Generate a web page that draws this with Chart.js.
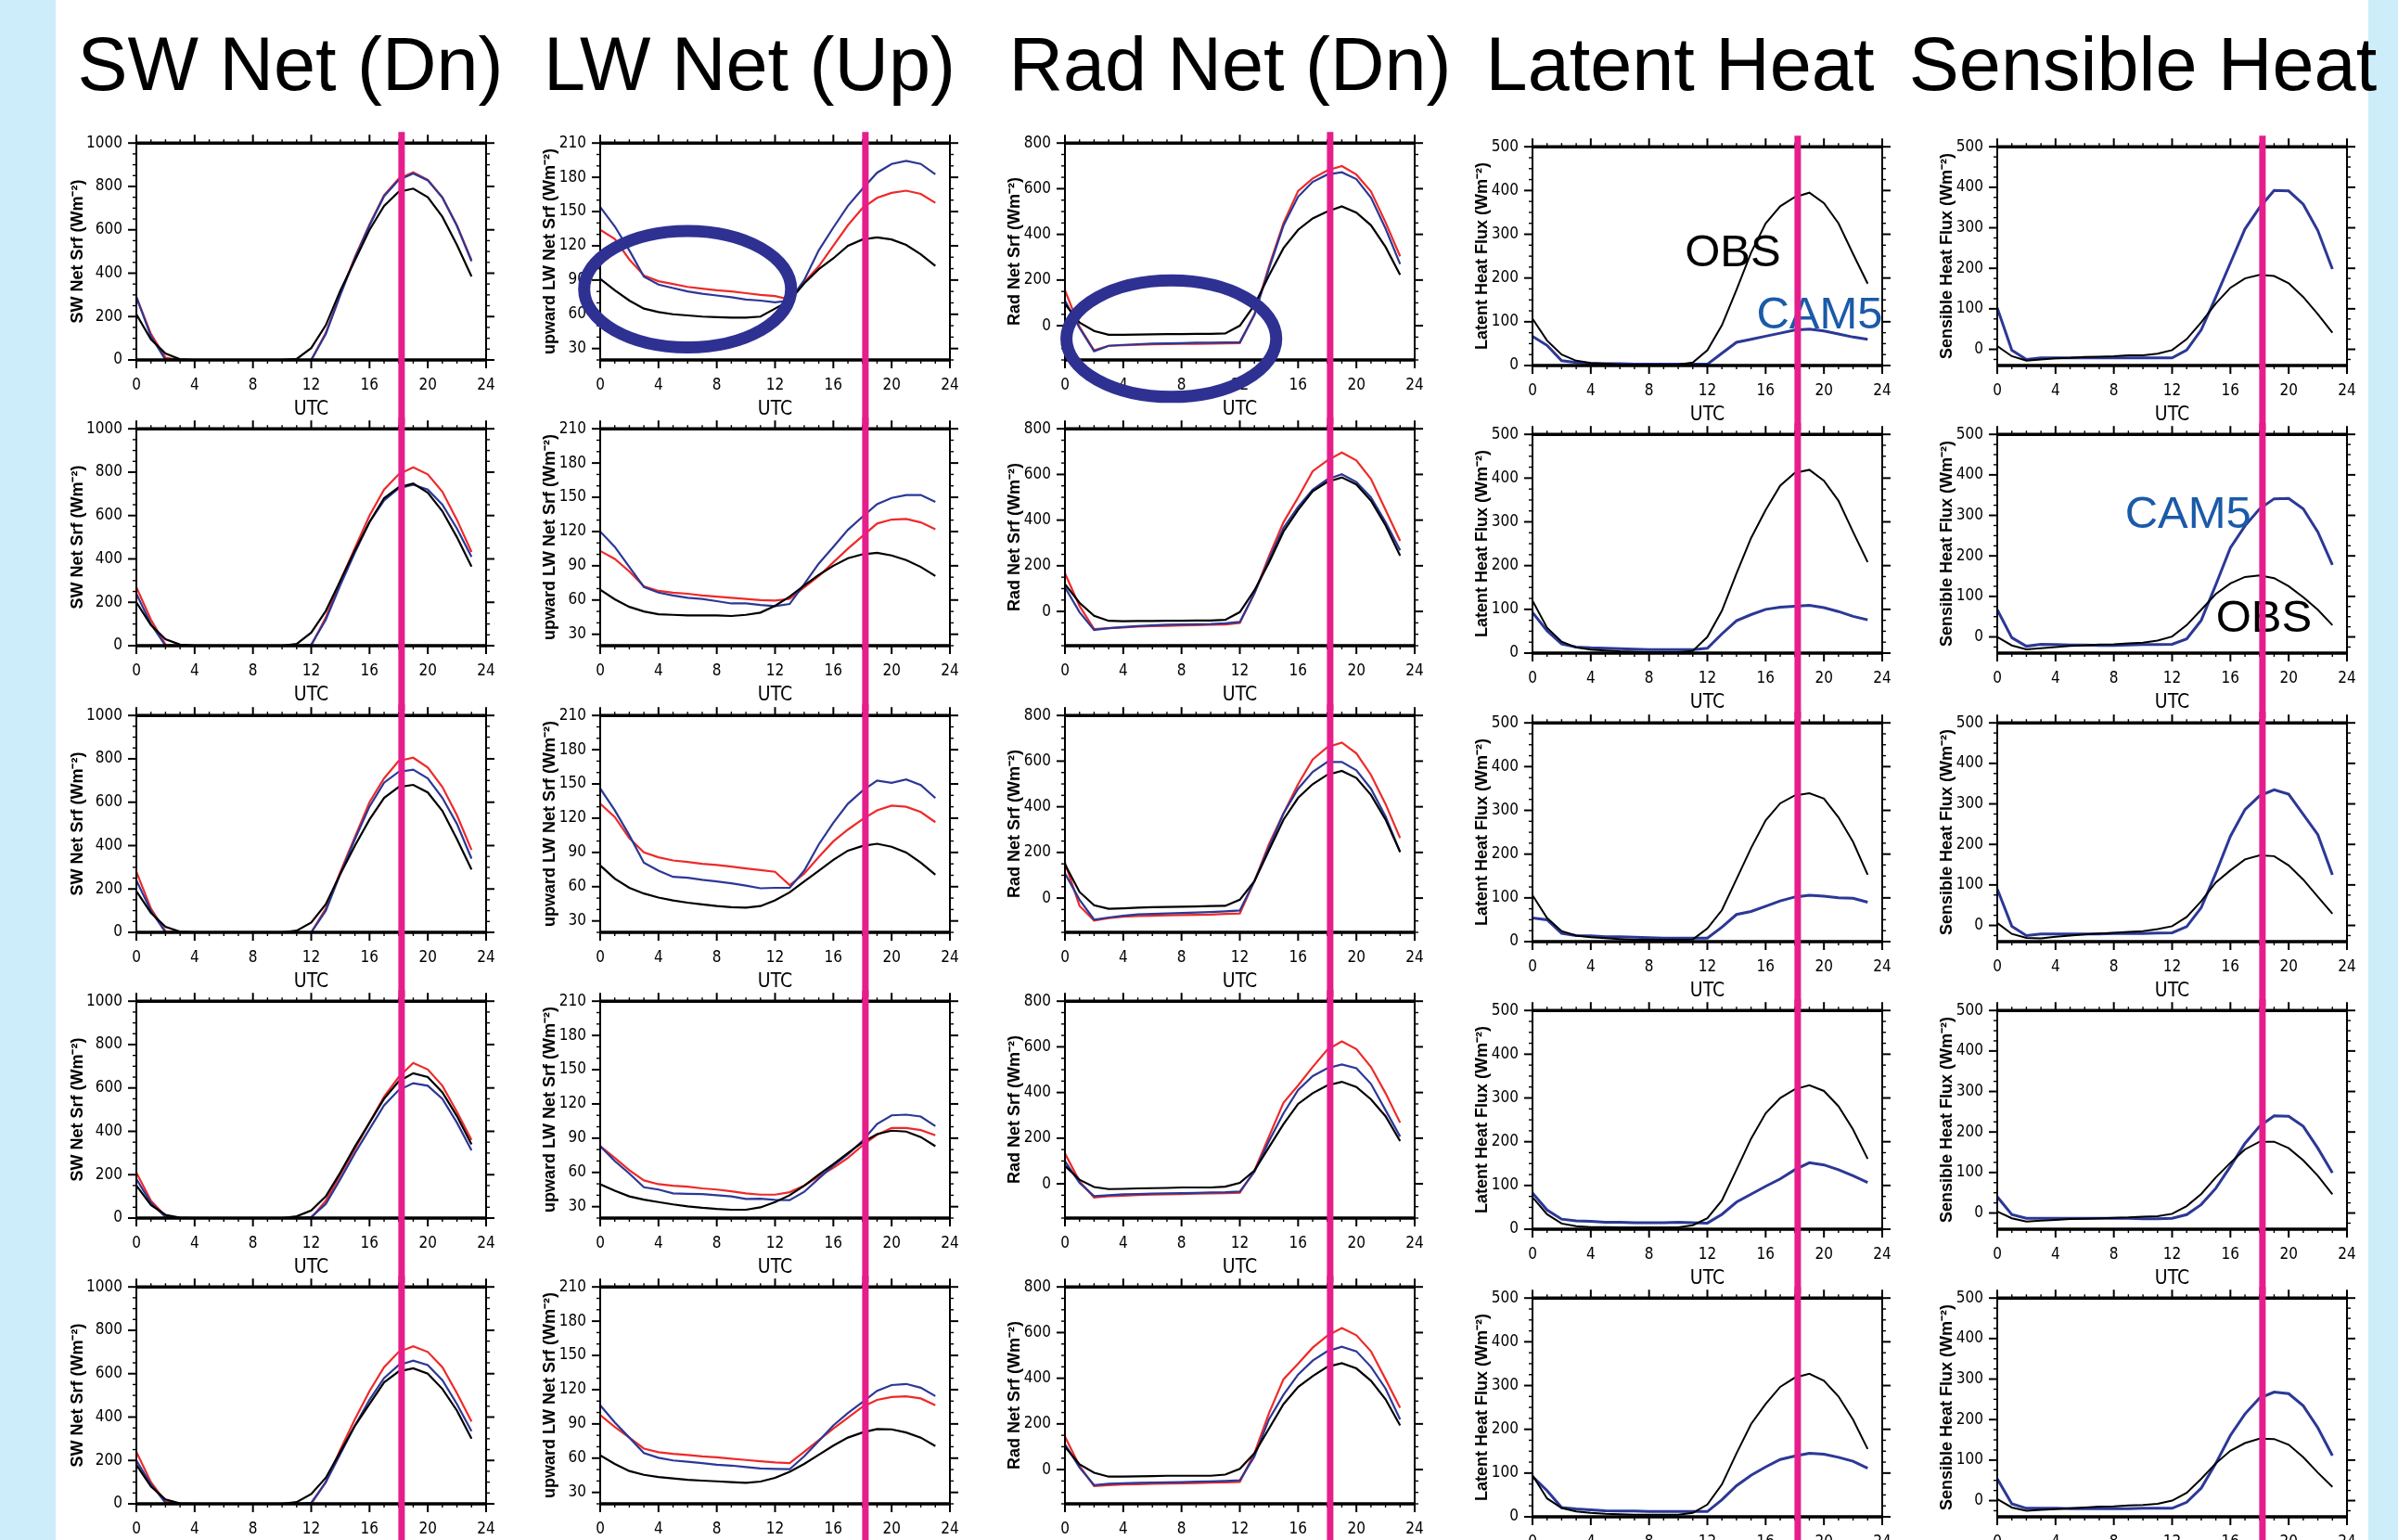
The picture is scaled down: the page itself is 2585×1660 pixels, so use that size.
<!DOCTYPE html>
<html>
<head>
<meta charset="utf-8">
<script src="https://cdn.jsdelivr.net/npm/chart.js@4/dist/chart.umd.min.js"></script>
<style>
  body { margin: 0; background: #fff; }
  #fig { position: relative; width: 2585px; height: 1660px; background: #fff; overflow: hidden; font-family: "Liberation Sans", Arial, sans-serif; }
  .strip { position: absolute; top: 0; height: 1660px; background: #cdedfa; }
  .head { position: absolute; top: 29px; font-size: 81px; line-height: 81px; white-space: nowrap; transform: translateX(-50%); color: #000; }
  canvas { position: absolute; }
</style>
</head>
<body>
<div id="fig">
  <div class="strip" style="left:0;width:60px"></div>
  <div class="strip" style="left:2553px;width:32px"></div>
</div>
<script>
  // hours of the composite diurnal cycle
  const utc = [0, 1, 2, 3, 4, 5, 6, 7, 8, 9, 10, 11, 12, 13, 14, 15, 16, 17, 18, 19, 20, 21, 22, 23];
  const utcTicks = [0, 4, 8, 12, 16, 20, 24];
  const markUTC = 18.2;

  const swTicks = [0, 200, 400, 600, 800, 1000];
  const lwTicks = [30, 60, 90, 120, 150, 180, 210];
  const radTicks = [0, 200, 400, 600, 800];
  const lhTicks = [0, 100, 200, 300, 400, 500];
  const shTicks = [0, 100, 200, 300, 400, 500];

  const headers = ['SW Net (Dn)', 'LW Net (Up)', 'Rad Net (Dn)', 'Latent Heat', 'Sensible Heat'];
  const yTitles = ['SW Net Srf (Wm⁻²)', 'upward LW Net Srf (Wm⁻²)', 'Rad Net Srf (Wm⁻²)', 'Latent Heat Flux (Wm⁻²)', 'Sensible Heat Flux (Wm⁻²)'];

  // SW net down, one row per panel
  const swObs = [
    [210, 95, 30, 3, 0, 0, 0, 0, 0, 0, 0, 5, 55, 160, 320, 460, 600, 710, 775, 790, 750, 660, 530, 385],
    [200, 95, 30, 5, 0, 0, 0, 0, 0, 0, 0, 8, 60, 160, 300, 440, 570, 680, 730, 748, 705, 620, 500, 365],
    [190, 90, 25, 3, 0, 0, 0, 0, 0, 0, 0, 8, 45, 130, 270, 400, 520, 620, 670, 680, 645, 560, 430, 290],
    [150, 60, 15, 2, 0, 0, 0, 0, 0, 0, 0, 8, 35, 100, 210, 330, 440, 550, 630, 668, 650, 580, 470, 340],
    [180, 80, 20, 2, 0, 0, 0, 0, 0, 0, 0, 8, 45, 120, 240, 360, 460, 560, 610, 625, 600, 530, 430, 300]
  ];
  const swRed = [
    [290, 120, 10, 0, 0, 0, 0, 0, 0, 0, 0, 0, 0, 125, 305, 475, 625, 760, 835, 865, 830, 750, 620, 460],
    [270, 120, 5, 0, 0, 0, 0, 0, 0, 0, 0, 0, 0, 130, 300, 450, 600, 720, 790, 822, 790, 710, 580, 432],
    [280, 110, 5, 0, 0, 0, 0, 0, 0, 0, 0, 0, 0, 110, 280, 440, 600, 710, 790, 805, 760, 670, 540, 380],
    [210, 80, 10, 0, 0, 0, 0, 0, 0, 0, 0, 0, 0, 80, 200, 320, 440, 560, 650, 715, 685, 610, 490, 360],
    [240, 100, 10, 0, 0, 0, 0, 0, 0, 0, 0, 0, 0, 100, 250, 390, 520, 630, 700, 726, 700, 630, 510, 380]
  ];
  const swCam5 = [
    [290, 110, 0, 0, 0, 0, 0, 0, 0, 0, 0, 0, 0, 120, 300, 470, 620, 755, 830, 860, 828, 748, 618, 455],
    [240, 100, 0, 0, 0, 0, 0, 0, 0, 0, 0, 0, 5, 120, 280, 430, 570, 670, 725, 742, 720, 650, 540, 410],
    [240, 100, 0, 0, 0, 0, 0, 0, 0, 0, 0, 0, 0, 100, 270, 430, 580, 690, 740, 750, 710, 620, 500, 340],
    [180, 70, 5, 0, 0, 0, 0, 0, 0, 0, 0, 0, 5, 65, 180, 300, 410, 520, 590, 622, 610, 550, 440, 312],
    [200, 90, 5, 0, 0, 0, 0, 0, 0, 0, 0, 0, 5, 100, 230, 360, 480, 580, 640, 660, 640, 570, 460, 335]
  ];

  // LW net up
  const lwObs = [
    [91, 81, 72, 65, 62, 60, 59, 58, 57.5, 57, 57, 58, 65, 72, 87, 99.5, 109, 120, 125.5, 127.4, 125.5, 120.8, 112.6, 102.3],
    [69, 60.6, 54, 50, 47.6, 47, 46.5, 46.5, 46.5, 46, 47, 49, 55, 63, 72.8, 82, 90, 96.6, 100, 101.4, 99, 95, 89, 81],
    [78.6, 67, 59, 54, 50.5, 48, 46, 44.5, 43, 42, 41.6, 43, 48, 55, 64.6, 74, 83.5, 91.6, 95.7, 97.6, 95, 90, 81, 70.5],
    [49.7, 44, 39, 36.2, 34, 32, 30.3, 29, 28, 27.3, 27.3, 29.4, 34, 40, 48.4, 58, 67.3, 77, 86.3, 93.6, 96.6, 95.8, 91, 83],
    [62.5, 55, 48.7, 45.4, 43.5, 42.2, 41, 40.3, 39.7, 39, 38.4, 39.5, 42.7, 48, 55, 63, 71, 78, 82.5, 85.5, 85.2, 82.5, 78, 70.6]
  ];
  const lwRed = [
    [134, 126, 108, 94, 89, 86.5, 84, 82.5, 81, 80, 78.5, 77, 76, 73, 88, 102, 120, 138, 153, 162, 166.4, 168.3, 165.5, 157.6],
    [103, 96, 85, 72, 68, 66.5, 65.5, 64, 63, 62, 61, 60, 59.5, 61, 71, 81, 93, 105, 116, 127, 130.5, 131, 128, 122],
    [132.7, 121, 102.4, 90, 85.7, 83, 81.6, 80, 79, 77.6, 76, 74.6, 73, 61.4, 71.4, 86, 99.7, 110, 119, 126.8, 131, 130, 125.4, 116.5],
    [83, 72.7, 62, 53, 49.7, 48.4, 47.6, 46, 45, 43.5, 41.6, 40.5, 40.5, 42.7, 48.4, 56.5, 64, 72.7, 83.6, 93, 99, 99, 97.1, 92.5],
    [97.7, 87.4, 78, 68.4, 65.2, 63.8, 62.7, 61.6, 60.8, 59.5, 58.4, 57.3, 56.2, 55.7, 65.7, 75.7, 86, 95.5, 105, 111, 113.6, 114.2, 112.3, 106.3]
  ];
  const lwCam5 = [
    [154, 137, 116, 93, 86, 83, 80, 78, 76.5, 75, 73, 72, 70.5, 72, 90, 116, 136, 155, 170, 184, 191.7, 194.4, 191.7, 182.7],
    [120, 106.6, 89, 71.4, 66.5, 64, 62, 61, 59, 57, 57, 55.6, 54.6, 56.5, 74, 92, 106.6, 121.5, 133, 144, 149.4, 152, 152, 146],
    [146, 127, 105, 81, 74, 68.6, 67.8, 66, 64.6, 63, 61, 58.6, 59, 59, 74, 97, 116, 132.7, 144, 153, 151, 154, 149, 137.6],
    [83, 70, 59, 47, 45, 41.6, 41.3, 41, 40, 39, 36.7, 37, 36, 35.7, 43, 54.6, 66, 76, 87.6, 102.5, 110, 110.6, 109, 100.6],
    [106.3, 91.4, 78, 64.4, 60.3, 58, 56.8, 55.7, 54.3, 53.5, 52.2, 51, 50.6, 50.3, 61.6, 75, 88.7, 99.5, 109, 119, 124, 125, 121.7, 114.4]
  ];

  // radiation net down
  const radObs = [
    [95, 14, -23, -40, -40, -39, -38, -37, -37, -36, -36, -34, 0, 90, 220, 340, 420, 470, 500, 523, 495, 440, 345, 223],
    [119, 38, -19, -41, -43, -42, -42, -41, -41, -40, -40, -37, -3, 92, 214, 350, 445, 526, 567, 587, 556, 485, 377, 244],
    [148, 27, -31, -47, -45, -42, -40, -39, -38, -37, -35, -34, -7, 74, 209, 344, 439, 499, 540, 557, 526, 452, 344, 202],
    [79, 18, -14, -23, -22, -20, -19, -18, -16, -16, -16, -12, 4, 58, 160, 262, 350, 397, 431, 447, 424, 370, 296, 187],
    [100, 23, -14, -31, -31, -30, -29, -27, -27, -27, -27, -22, 3, 71, 179, 287, 362, 409, 450, 466, 443, 389, 308, 193]
  ];
  const radRed = [
    [155, -5, -108, -88, -86, -84, -82, -81, -80, -79, -78, -77, -76, 50, 260, 450, 590, 645, 680, 699, 662, 588, 453, 304],
    [167, 24, -77, -73, -70, -66, -64, -63, -61, -60, -58, -57, -50, 79, 241, 391, 499, 614, 661, 696, 661, 580, 445, 309],
    [155, -34, -98, -88, -82, -78, -77, -75, -74, -73, -72, -69, -67, 74, 236, 371, 499, 607, 661, 681, 634, 540, 412, 263],
    [133, 11, -60, -54, -52, -49, -47, -46, -45, -43, -42, -41, -39, 58, 207, 356, 431, 512, 587, 624, 590, 512, 397, 268],
    [145, 16, -72, -68, -65, -64, -62, -61, -60, -59, -57, -56, -54, 71, 247, 396, 464, 534, 586, 620, 588, 518, 396, 271]
  ];
  const radCam5 = [
    [110, -10, -112, -88, -84, -81, -78, -77, -76, -74, -74, -73, -72, 47, 250, 439, 565, 630, 662, 672, 642, 561, 426, 270],
    [106, -3, -81, -73, -68, -64, -61, -58, -57, -56, -55, -52, -46, 79, 228, 366, 458, 533, 578, 601, 567, 499, 391, 268],
    [108, -7, -94, -85, -77, -71, -69, -67, -65, -63, -61, -58, -54, 74, 223, 371, 479, 553, 596, 596, 560, 479, 358, 202],
    [99, 4, -54, -50, -46, -45, -43, -42, -41, -40, -38, -37, -34, 52, 187, 309, 411, 472, 506, 523, 506, 438, 323, 207],
    [111, 9, -68, -62, -60, -58, -57, -56, -55, -53, -52, -50, -47, 57, 220, 328, 416, 477, 518, 538, 518, 450, 355, 220]
  ];

  // latent heat flux
  const lhObs = [
    [107, 57, 25, 11, 6, 4, 2, 2, 2, 2, 2, 7, 35, 92, 173, 258, 325, 364, 385, 395, 371, 325, 255, 187],
    [120, 58, 26, 13, 8, 6, 4, 3, 2, 2, 2, 5, 37, 97, 182, 263, 327, 383, 412, 419, 394, 348, 277, 208],
    [106, 54, 24, 14, 10, 8, 6, 4, 4, 4, 4, 5, 30, 72, 143, 214, 277, 316, 334, 339, 327, 284, 228, 153],
    [73, 34, 13, 7, 5, 5, 4, 4, 4, 4, 4, 9, 25, 66, 136, 207, 265, 300, 320, 329, 316, 281, 228, 161],
    [95, 42, 20, 12, 9, 7, 6, 5, 5, 5, 5, 9, 28, 74, 145, 212, 258, 297, 318, 327, 311, 275, 222, 155]
  ];
  const lhCam5 = [
    [67, 46, 11, 7, 5, 4, 4, 3, 3, 3, 3, 3, 3, 28, 53, 60, 67, 74, 81, 83, 79, 72, 65, 60],
    [93, 51, 21, 14, 12, 11, 10, 9, 8, 8, 8, 8, 11, 44, 74, 88, 100, 105, 107, 109, 104, 95, 84, 76],
    [54, 50, 19, 14, 13, 11, 11, 10, 9, 8, 8, 8, 8, 33, 62, 69, 81, 93, 102, 106, 104, 100, 99, 90],
    [83, 44, 23, 19, 18, 16, 16, 15, 15, 15, 16, 15, 14, 34, 62, 80, 98, 115, 136, 152, 147, 136, 122, 107],
    [92, 60, 21, 18, 16, 14, 13, 13, 12, 12, 12, 12, 12, 39, 71, 95, 114, 131, 139, 145, 143, 136, 127, 111]
  ];

  // sensible heat flux
  const shObs = [
    [8, -17, -28, -25, -22, -21, -19, -18, -17, -15, -15, -11, -2, 25, 67, 113, 152, 175, 184, 181, 163, 129, 87, 41],
    [0, -21, -31, -28, -25, -22, -21, -19, -18, -16, -14, -9, 1, 29, 67, 106, 132, 148, 152, 145, 125, 98, 67, 29],
    [6, -21, -31, -32, -28, -25, -22, -20, -18, -16, -14, -9, -2, 21, 60, 106, 136, 163, 173, 171, 148, 113, 71, 29],
    [4, -13, -21, -19, -17, -15, -14, -13, -12, -11, -9, -8, -2, 17, 47, 88, 124, 157, 176, 176, 160, 130, 92, 46],
    [4, -17, -25, -23, -21, -19, -17, -15, -14, -12, -11, -8, 0, 19, 54, 92, 123, 142, 153, 152, 138, 107, 69, 34]
  ];
  const shCam5 = [
    [102, -2, -25, -21, -21, -21, -21, -21, -21, -21, -21, -21, -21, -2, 48, 129, 213, 297, 350, 392, 391, 358, 293, 198],
    [67, -2, -23, -18, -19, -20, -20, -21, -21, -20, -19, -19, -18, -5, 41, 129, 220, 274, 316, 341, 342, 316, 259, 178],
    [90, -2, -25, -21, -21, -21, -21, -21, -20, -20, -20, -19, -18, -3, 44, 129, 220, 286, 320, 335, 324, 274, 224, 125],
    [40, -4, -13, -13, -13, -13, -13, -13, -13, -13, -14, -14, -13, -4, 21, 61, 115, 172, 214, 240, 239, 214, 160, 99],
    [54, -8, -19, -19, -19, -20, -20, -20, -20, -20, -19, -19, -19, -4, 31, 92, 161, 214, 253, 268, 264, 234, 180, 111]
  ];

  const narrow = "'Liberation Sans Narrow', 'DejaVu Sans Condensed', sans-serif";
  const magenta = '#e61e8c';

  const cols = [
    { min: 0, max: 1000, ticks: swTicks, minor: 50, obs: swObs, red: swRed, cam5: swCam5, pad: 26 },
    { min: 20, max: 210, ticks: lwTicks, minor: 10, obs: lwObs, red: lwRed, cam5: lwCam5, pad: 35 },
    { min: -150, max: 800, ticks: radTicks, minor: 50, obs: radObs, red: radRed, cam5: radCam5, pad: 35 },
    { min: 0, max: 500, ticks: lhTicks, minor: 25, obs: lhObs, red: null, cam5: lhCam5, pad: 35 },
    { min: -40, max: 500, ticks: shTicks, minor: 25, obs: shObs, red: null, cam5: shCam5, pad: 35 }
  ];

  // hand-drawn marks on the poster (in data units of their panel)
  const rings = { '1-0': { x: 6, y: 82, dx: 7.1, dy: 51 }, '2-0': { x: 7.3, y: -57, dx: 7.2, dy: 255 } };
  const notes = {
    '3-0': [{ text: 'OBS', x: 13.75, y: 262, color: '#000' }, { text: 'CAM5', x: 19.7, y: 120, color: '#1a5aa8' }],
    '4-1': [{ text: 'CAM5', x: 13.1, y: 308, color: '#1a5aa8' }, { text: 'OBS', x: 18.3, y: 52, color: '#000' }]
  };

  const fig = document.getElementById('fig');
  const headX = [313, 808, 1326, 1811, 2310];
  headers.forEach((h, i) => {
    const d = document.createElement('div');
    d.className = 'head';
    d.style.left = headX[i] + 'px';
    d.textContent = h;
    fig.appendChild(d);
  });

  const plotLeft = [147, 647, 1148, 1652, 2153];
  const plotW = 377;
  const padTop = 25; // room chart.js keeps above the y axis for the top label

  function overlay(col, ring, marks) {
    return {
      id: 'overlay',
      afterDraw(chart) {
        const ctx = chart.ctx, a = chart.chartArea, xs = chart.scales.x, ys = chart.scales.y;
        const seg = (x1, y1, x2, y2, w) => { ctx.lineWidth = w; ctx.beginPath(); ctx.moveTo(x1, y1); ctx.lineTo(x2, y2); ctx.stroke(); };
        ctx.save();
        ctx.strokeStyle = '#000';
        for (let v = 0; v <= 24; v++) {
          const px = xs.getPixelForValue(v), big = utcTicks.includes(v), n = big ? 9 : 4, w = big ? 2 : 1.4;
          seg(px, a.top, px, a.top - n, w);
          seg(px, a.bottom, px, a.bottom + n, w);
        }
        for (let v = Math.ceil(col.min / col.minor) * col.minor; v <= col.max; v += col.minor) {
          const py = ys.getPixelForValue(v), big = col.ticks.includes(v), n = big ? 9 : 4, w = big ? 2 : 1.4;
          seg(a.left, py, a.left - n, py, w);
          seg(a.right, py, a.right + n, py, w);
        }
        seg(a.left, a.top, a.left, a.bottom, 2);
        seg(a.right, a.top, a.right, a.bottom, 2);
        seg(a.left - 1, a.top, a.right + 1, a.top, 3.5);
        seg(a.left - 1, a.bottom, a.right + 1, a.bottom, 3.5);

        if (ring) {
          const cx = xs.getPixelForValue(ring.x), cy = ys.getPixelForValue(ring.y);
          const rx = Math.abs(xs.getPixelForValue(ring.x + ring.dx) - cx);
          const ry = Math.abs(ys.getPixelForValue(ring.y + ring.dy) - cy);
          ctx.strokeStyle = '#2e3192';
          ctx.lineWidth = 13;
          ctx.beginPath();
          ctx.ellipse(cx, cy, rx, ry, 0, 0, 2 * Math.PI);
          ctx.stroke();
        }
        (marks || []).forEach(t => {
          ctx.font = '49px "Liberation Sans", Arial, sans-serif';
          ctx.fillStyle = t.color;
          ctx.textAlign = 'center';
          ctx.textBaseline = 'alphabetic';
          ctx.fillText(t.text, xs.getPixelForValue(t.x), ys.getPixelForValue(t.y) + 17);
        });

        const mx = xs.getPixelForValue(markUTC);
        ctx.strokeStyle = magenta;
        seg(mx, a.top - 12, mx, chart.height, 7);
        ctx.restore();
      }
    };
  }

  cols.forEach((col, c) => {
    const wide = c >= 3;
    const top0 = wide ? 158 : 154, pitch = wide ? 310.25 : 308.25, plotH = wide ? 236 : 234;
    for (let r = 0; r < 5; r++) {
      const plotTop = Math.round(top0 + r * pitch);
      const cv = document.createElement('canvas');
      cv.width = 100 + plotW + 30;
      cv.height = padTop + plotH + 70;
      cv.style.left = (plotLeft[c] - 100) + 'px';
      cv.style.top = (plotTop - padTop) + 'px';
      fig.appendChild(cv);

      const pts = arr => utc.map((h, i) => ({ x: h, y: arr[r][i] }));
      const datasets = [
        { data: pts(col.obs), borderColor: '#000', borderWidth: wide ? 2 : 2.2 },
        { data: pts(col.cam5), borderColor: '#2b3896', borderWidth: wide ? 3 : 2.2 }
      ];
      if (col.red) datasets.push({ data: pts(col.red), borderColor: '#ee2a2a', borderWidth: 2.2 });

      new Chart(cv, {
        type: 'line',
        data: { datasets },
        options: {
          responsive: false,
          animation: false,
          devicePixelRatio: 1,
          events: [],
          layout: { padding: { top: 0, right: 30, left: 0, bottom: 0 } },
          elements: { point: { radius: 0 }, line: { tension: 0 } },
          plugins: { legend: { display: false }, tooltip: { enabled: false } },
          scales: {
            x: {
              type: 'linear', min: 0, max: 24,
              afterBuildTicks: s => { s.ticks = utcTicks.map(v => ({ value: v })); },
              afterFit: s => { s.height = 70; },
              grid: { display: false, drawTicks: false },
              border: { display: false },
              ticks: { color: '#000', font: { family: narrow, size: 17 }, padding: 17, maxRotation: 0, autoSkip: false, callback: v => String(v) },
              title: { display: true, text: 'UTC', color: '#000', font: { family: narrow, size: 21 }, padding: { top: 0, bottom: 4 } }
            },
            y: {
              type: 'linear', min: col.min, max: col.max,
              afterBuildTicks: s => { s.ticks = col.ticks.map(v => ({ value: v })); },
              afterFit: s => { s.width = 100; },
              grid: { display: false, drawTicks: false },
              border: { display: false },
              ticks: { color: '#000', font: { family: narrow, size: 17 }, padding: 15, autoSkip: false, callback: v => String(v) },
              title: { display: true, text: yTitles[c], color: '#000', font: { family: "'Liberation Sans', Arial, sans-serif", size: 18, weight: 'bold' }, padding: { top: col.pad, bottom: 0 } }
            }
          }
        },
        plugins: [overlay(col, rings[c + '-' + r], notes[c + '-' + r])]
      });
    }
  });
</script>
</body>
</html>
